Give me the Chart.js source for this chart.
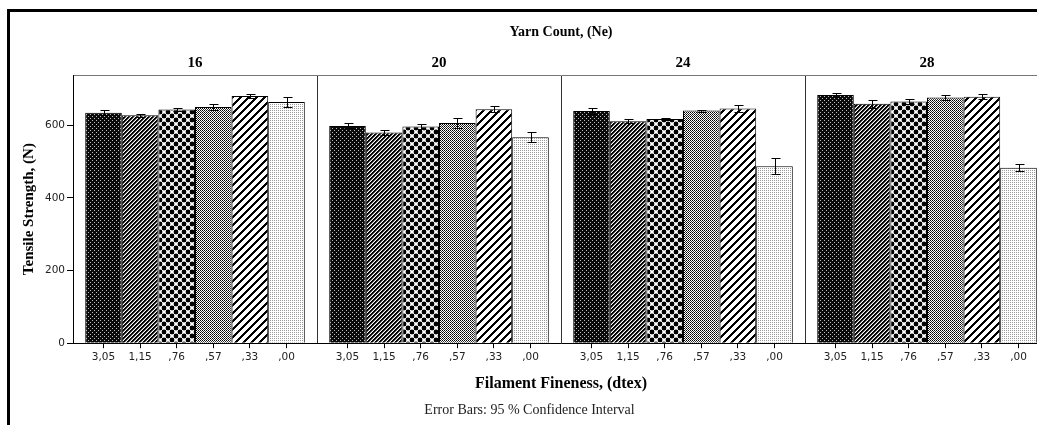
<!DOCTYPE html>
<html>
<head>
<meta charset="utf-8">
<script src="https://cdn.jsdelivr.net/npm/chart.js@4/dist/chart.umd.min.js"></script>
<style>
  html, body { margin: 0; padding: 0; background: #fff; overflow: hidden; }
  #wrap { position: relative; width: 1037px; height: 425px; overflow: hidden; }
  #chart { position: absolute; left: 0; top: 0; }
  #frame {
    position: absolute; left: 7px; top: 9px; width: 2000px; height: 1000px;
    border-top: 3px solid #000; border-left: 3px solid #000; pointer-events: none;
  }
</style>
</head>
<body>
<div id="wrap">
  <canvas id="chart" width="1060" height="425"></canvas>
  <div id="frame"></div>
</div>
<script>
// yarn counts (panels) and filament fineness (bars inside each panel)
const yarnCounts = ["16", "20", "24", "28"];
const fineness = ["3,05", "1,15", ",76", ",57", ",33", ",00"];

// mean tensile strength (N), one array per yarn count, in fineness order
const strength16 = [634, 627, 643, 650, 680, 664];
const strength20 = [598, 580, 596, 606, 644, 567];
const strength24 = [639, 611, 617, 640, 646, 487];
const strength28 = [683, 659, 665, 676, 678, 483];

// half width of the 95% confidence interval
const ci16 = [7, 4, 5, 8, 5, 14];
const ci20 = [7, 8, 6, 13, 8, 14];
const ci24 = [8, 6, 3, 3, 10, 22];
const ci28 = [5, 11, 6, 7, 7, 10];

const yTicks = [0, 200, 400, 600];

const groupPct = 0.9;
const canvas = document.getElementById("chart");
const ctx = canvas.getContext("2d");

function makePattern(size, draw) {
    const tile = document.createElement("canvas");
    tile.width = size;
    tile.height = size;
    const g = tile.getContext("2d");
    g.fillStyle = "#fff";
    g.fillRect(0, 0, size, size);
    draw(g, size);
    return ctx.createPattern(tile, "repeat");
}

function px(g, x, y, color) {
    g.fillStyle = color;
    g.fillRect(x, y, 1, 1);
}

const patterns = [
    // 3,05 very dark speckle
    makePattern(4, (g) => {
        g.fillStyle = "#0a0a0a";
        g.fillRect(0, 0, 4, 4);
        px(g, 0, 0, "#bbb");
        px(g, 2, 2, "#bbb");
    }),
    // 1,15 dense diagonal
    makePattern(4, (g) => {
        for (let x = 0; x < 4; x++) {
            for (let y = 0; y < 4; y++) {
                const k = (x + y) % 4;
                if (k === 0 || k === 1) px(g, x, y, "#000");
                else if (k === 2) px(g, x, y, "#777");
            }
        }
    }),
    // ,76 diamond crosshatch: dots joined by thin diagonals
    makePattern(8, (g) => {
        g.strokeStyle = "#555";
        g.lineWidth = 1;
        g.beginPath();
        g.moveTo(0, 0); g.lineTo(8, 8);
        g.moveTo(8, 0); g.lineTo(0, 8);
        g.stroke();
        g.fillStyle = "#000";
        [[4, 4], [0, 0], [8, 0], [0, 8], [8, 8]].forEach(([cx, cy]) => {
            g.beginPath();
            g.arc(cx, cy, 2.4, 0, Math.PI * 2);
            g.fill();
        });
    }),
    // ,57 medium grey checker
    makePattern(2, (g) => {
        px(g, 0, 0, "#000");
        px(g, 1, 1, "#333");
    }),
    // ,33 wide diagonal
    makePattern(8, (g) => {
        for (let x = 0; x < 8; x++) {
            for (let y = 0; y < 8; y++) {
                if ((x + y) % 8 < 3) px(g, x, y, "#000");
            }
        }
    }),
    // ,00 light dots
    makePattern(2, (g) => {
        px(g, 0, 0, "#9a9a9a");
    })
];

const strengthByCount = [strength16, strength20, strength24, strength28];
const ciByCount = [ci16, ci20, ci24, ci28];

const datasets = fineness.map((f, j) => ({
    label: f,
    data: strengthByCount.map(arr => arr[j]),
    errors: ciByCount.map(arr => arr[j]),
    backgroundColor: patterns[j],
    borderColor: "#000",
    borderWidth: 1,
    categoryPercentage: groupPct,
    barPercentage: 1.0,
    xAxisID: "x",
    yAxisID: "y"
}));

// bottom tick positions sit at the centre of each bar, in category units
const tickPositions = [];
yarnCounts.forEach((c, i) => {
    fineness.forEach((f, j) => {
        tickPositions.push(i + (1 - groupPct) / 2 + (j + 0.5) * groupPct / fineness.length);
    });
});

const errorBars = {
    id: "errorBars",
    afterDatasetsDraw(chart) {
        const c = chart.ctx;
        const yScale = chart.scales.y;
        c.save();
        c.strokeStyle = "#000";
        c.lineWidth = 1;
        chart.data.datasets.forEach((ds, di) => {
            const meta = chart.getDatasetMeta(di);
            meta.data.forEach((bar, i) => {
                const v = ds.data[i];
                const e = ds.errors[i];
                const x = Math.round(bar.x) + 0.5;
                const yt = Math.round(yScale.getPixelForValue(v + e)) + 0.5;
                const yb = Math.round(yScale.getPixelForValue(v - e)) + 0.5;
                c.beginPath();
                c.moveTo(x, yt); c.lineTo(x, yb);
                c.moveTo(x - 4, yt); c.lineTo(x + 5, yt);
                c.moveTo(x - 4, yb); c.lineTo(x + 5, yb);
                c.stroke();
            });
        });
        c.restore();
    }
};

const serif = "'Liberation Serif', 'Times New Roman', serif";
const sans = "'DejaVu Sans', sans-serif";

new Chart(ctx, {
    type: "bar",
    data: { labels: yarnCounts, datasets: datasets },
    options: {
        responsive: false,
        animation: false,
        devicePixelRatio: 1,
        layout: { padding: { left: 10, right: 11, top: 0, bottom: 0 } },
        plugins: {
            legend: { display: false },
            tooltip: { enabled: false },
            subtitle: {
                display: true,
                position: "bottom",
                text: "Error Bars: 95 % Confidence Interval",
                color: "#222",
                font: { family: serif, size: 14, weight: "normal" },
                padding: { top: 2, bottom: 6 }
            }
        },
        scales: {
            x: {
                type: "category",
                position: "top",
                offset: true,
                grid: { offset: true, drawTicks: false, color: "#333", lineWidth: 1 },
                border: { display: true, color: "#777" },
                ticks: {
                    color: "#000",
                    padding: 3,
                    font: { family: serif, size: 15, weight: "bold" }
                },
                title: {
                    display: true,
                    text: "Yarn Count, (Ne)",
                    color: "#000",
                    font: { family: serif, size: 14, weight: "bold" },
                    padding: { top: 24, bottom: 0 }
                },
                afterFit: (s) => { s.height = 75; }
            },
            xb: {
                type: "linear",
                position: "bottom",
                min: 0,
                max: yarnCounts.length,
                offset: false,
                grid: { offset: false, drawOnChartArea: false, drawTicks: true, tickLength: 5, color: "#000" },
                border: { display: true, color: "#000" },
                afterBuildTicks: (s) => { s.ticks = tickPositions.map(v => ({ value: v })); },
                ticks: {
                    autoSkip: false,
                    maxRotation: 0,
                    minRotation: 0,
                    padding: 3,
                    color: "#222",
                    font: { family: sans, size: 10.5 },
                    callback: (v, i) => fineness[i % fineness.length]
                },
                title: {
                    display: true,
                    text: "Filament Fineness, (dtex)",
                    color: "#000",
                    font: { family: serif, size: 16, weight: "bold" },
                    padding: { top: 0, bottom: 7 }
                },
                afterFit: (s) => { s.height = 57; }
            },
            y: {
                type: "linear",
                position: "left",
                min: 0,
                max: 738,
                grid: { drawOnChartArea: false, drawTicks: true, tickLength: 6, color: "#000" },
                border: { display: true, color: "#000" },
                afterBuildTicks: (s) => { s.ticks = yTicks.map(v => ({ value: v })); },
                ticks: {
                    padding: 2,
                    color: "#222",
                    font: { family: sans, size: 10.5 }
                },
                title: {
                    display: true,
                    text: "Tensile Strength, (N)",
                    color: "#000",
                    font: { family: serif, size: 15, weight: "bold" },
                    padding: { top: 10, bottom: 0 }
                },
                afterFit: (s) => { s.width = 63; }
            }
        }
    },
    plugins: [errorBars]
});
</script>
</body>
</html>
